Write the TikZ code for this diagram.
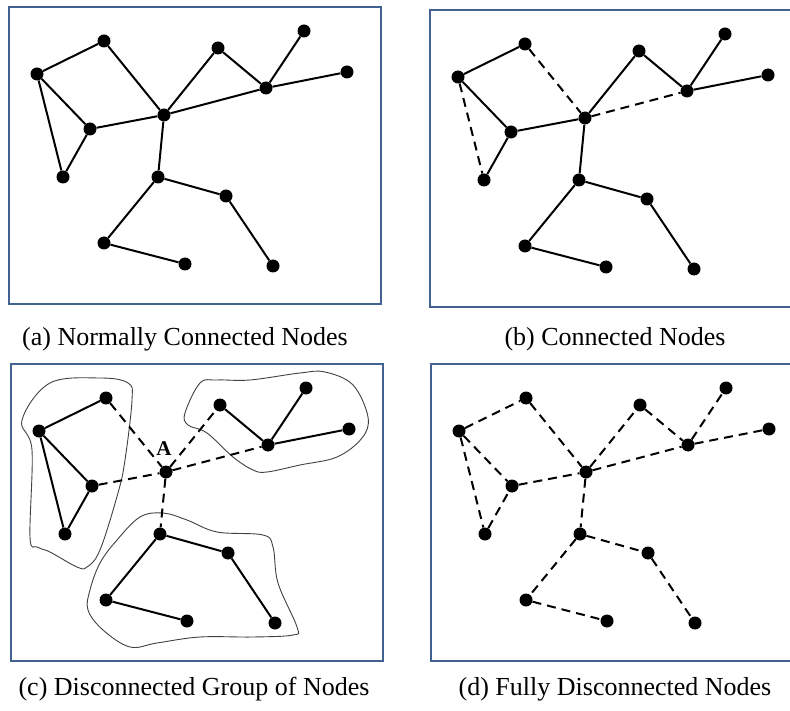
\documentclass[tikz,border=0pt]{standalone}
\usepackage{fontspec}
\setmainfont{Liberation Serif}
\usepackage{tikz}
\usetikzlibrary{positioning}
\definecolor{frameblue}{RGB}{66,99,146}
\tikzset{
  dot/.style   ={circle,fill=black,minimum size=13pt,inner sep=0pt},
  lnk/.style   ={draw=black,line width=2pt},
  cutlnk/.style={lnk,dash pattern=on 9pt off 6pt},
  panel/.style ={draw=frameblue,line width=1.8pt},
  grp/.style   ={draw=black!75,line width=0.9pt},
  captxt/.style={font=\fontsize{26}{30}\selectfont,anchor=base,inner sep=0pt},
}

%% frame + the 14 nodes, same layout in every panel; #1 = name prefix
\newcommand{\placenodes}[1]{%
  \draw[panel] (9,7) rectangle (381,304);
  \foreach \n/\x/\y in {p1/104/41, p2/37/74, p3/90/129, p4/63/177,
      hub/164/115, p6/218/48, p7/266/88, p8/304/31, p9/347/72,
      p10/158/177, p11/226/196, p12/273/266, p13/104/243, p14/185/264}
    \node[dot] (#1\n) at (\x,\y) {};
}

\begin{document}
\begin{tikzpicture}[x=1pt, y=-1pt]
\useasboundingbox (0,0) rectangle (790,711);

%% ---------------- (a) all links up ----------------
\begin{scope}
  \placenodes{a}
  \foreach \u/\v in {p2/p1, p1/hub, p2/p3, p2/p4, p4/p3, p3/hub, hub/p6,
      p6/p7, hub/p7, p7/p8, p7/p9, hub/p10, p10/p11, p11/p12, p10/p13, p13/p14}
    \draw[lnk] (a\u) -- (a\v);
\end{scope}

%% ---------------- (b) three links down ----------------
\begin{scope}[shift={(421,3)}]
  \placenodes{b}
  \foreach \u/\v in {p2/p1, p2/p3, p4/p3, p3/hub, hub/p6, p6/p7,
      p7/p8, p7/p9, hub/p10, p10/p11, p11/p12, p10/p13, p13/p14}
    \draw[lnk] (b\u) -- (b\v);
  \foreach \u/\v in {p1/hub, p2/p4, hub/p7}
    \draw[cutlnk] (b\u) -- (b\v);
\end{scope}

%% ---------------- (c) groups cut off from A ----------------
\begin{scope}[shift={(2,357)}]
  %% group outlines
  \draw[grp] plot[smooth cycle, tension=0.6] coordinates {
    (48,26) (20,63) (30,93) (28,180) (35,190) (48,195) (75,210) (85,210)
    (98,193) (116,136) (123,103) (130,43) (126,26) (98,21)};
  \draw[grp] plot[smooth cycle, tension=0.6] coordinates {
    (183,56) (198,26) (215,23) (248,23) (298,16) (323,15) (351,28) (366,60)
    (360,81) (335,100) (298,108) (265,115) (251,113) (231,100) (205,76) (186,68)};
  \draw[grp] plot[smooth cycle, tension=0.6] coordinates {
    (138,160) (161,156) (185,163) (215,175) (261,178) (271,190) (276,226)
    (295,270) (291,278) (251,280) (198,280) (155,286) (128,290) (101,273)
    (86,253) (88,233) (98,206) (115,183)};
  \placenodes{c}
  \node[font=\bfseries\fontsize{21}{21}\selectfont, inner sep=0pt,
        above=10pt of chub, xshift=-2pt] (lblA) {A};
  \foreach \u/\v in {p2/p1, p2/p3, p2/p4, p4/p3, p6/p7, p7/p8, p7/p9,
      p10/p11, p11/p12, p10/p13, p13/p14}
    \draw[lnk] (c\u) -- (c\v);
  \foreach \u/\v in {p1/hub, p3/hub, hub/p6, hub/p7, hub/p10}
    \draw[cutlnk] (c\u) -- (c\v);
\end{scope}

%% ---------------- (d) every link down ----------------
\begin{scope}[shift={(422,357)}]
  \placenodes{d}
  \foreach \u/\v in {p2/p1, p1/hub, p2/p3, p2/p4, p4/p3, p3/hub, hub/p6,
      p6/p7, hub/p7, p7/p8, p7/p9, hub/p10, p10/p11, p11/p12, p10/p13, p13/p14}
    \draw[cutlnk] (d\u) -- (d\v);
\end{scope}

%% ---------------- captions ----------------
\node[captxt] (capa) at (185,345) {(a) Normally Connected Nodes};
\node[captxt] (capb) at (615,345) {(b) Connected Nodes};
\node[captxt] (capc) at (194,695) {(c) Disconnected Group of Nodes};
\node[captxt] (capd) at (615,695) {(d) Fully Disconnected Nodes};

\end{tikzpicture}
\end{document}
